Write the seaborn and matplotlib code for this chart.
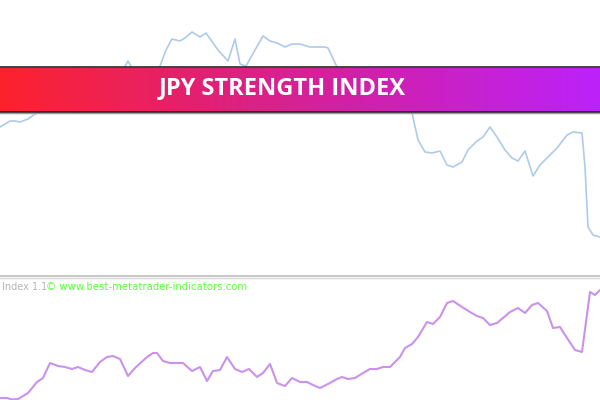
import numpy as np
import pandas as pd
import seaborn as sns
import matplotlib.pyplot as plt

# Strength line (upper panel)
top_x = [0, 10, 15, 20, 28, 35, 40, 47, 55, 62, 72, 78, 84, 92, 100, 108, 116, 122,
         128, 133, 140, 148, 155, 160, 166, 172, 180, 185, 192, 200, 206, 218, 228,
         235, 240, 246, 255, 263, 270, 277, 285, 292, 300, 310, 325, 328, 337, 345,
         355, 365, 375, 385, 395, 403, 412, 418, 425, 432, 440, 447, 453, 462, 468,
         477, 483, 490, 497, 505, 512, 518, 525, 533, 540, 548, 557, 567, 573, 582,
         585, 588, 593, 600]
top_val = [145, 151, 151, 150, 153, 158, 160, 164, 167, 169, 164, 159, 165, 172, 177,
           184, 192, 200, 211, 202, 197, 194, 200, 206, 222, 233, 231, 234, 240, 235,
           239, 222, 211, 233, 208, 206, 222, 236, 231, 229, 225, 228, 228, 225, 225,
           224, 205, 194, 187, 184, 188, 182, 177, 172, 159, 132, 120, 119, 121, 107,
           105, 110, 122, 131, 135, 145, 135, 122, 114, 111, 121, 96, 107, 115, 124,
           137, 140, 139, 105, 45, 37, 35]

# Index line (lower panel)
bot_x = [0, 7, 12, 18, 28, 37, 43, 50, 58, 65, 72, 78, 85, 92, 100, 107, 113, 120,
         128, 135, 147, 153, 157, 163, 170, 183, 192, 200, 207, 213, 220, 227, 235,
         242, 249, 257, 263, 270, 277, 285, 292, 300, 307, 313, 320, 328, 337, 342,
         348, 355, 363, 370, 377, 383, 390, 400, 405, 412, 418, 427, 433, 440, 447,
         453, 462, 470, 477, 483, 490, 497, 503, 510, 518, 525, 532, 538, 547, 553,
         560, 567, 575, 582, 590, 595, 600]
bot_val = [2, 2, 0.5, 1, 7, 18, 22, 37, 34, 33, 31, 33, 30, 28, 38, 43, 44, 41, 24, 32,
           43, 47, 47, 39, 37, 37, 29, 33, 19, 29, 30, 43, 31, 28, 31, 23, 27, 36, 17,
           14, 22, 18, 18, 15, 12, 16, 21, 23, 21, 22, 27, 31, 31, 33, 33, 43, 52, 56,
           63, 78, 76, 83, 97, 99, 93, 88, 84, 82, 75, 77, 82, 88, 92, 87, 95, 97, 89,
           72, 73, 62, 50, 48, 108, 105, 110]

title = "JPY STRENGTH INDEX"

df_top = pd.DataFrame({"x": top_x, "v": top_val})
df_bot = pd.DataFrame({"x": bot_x, "v": bot_val})

sns.set_theme(style="white")

fig = plt.figure(figsize=(6, 4), dpi=100)
fig.patch.set_facecolor("white")

# upper panel
ax1 = fig.add_axes([0, 126 / 400, 1, 274 / 400])
sns.lineplot(ax=ax1, data=df_top, x="x", y="v", sort=False, color="#AECBEB", linewidth=1.2)
ax1.set_xlim(0, 600)
ax1.set_ylim(-2, 272)
ax1.axis("off")

# lower panel
ax2 = fig.add_axes([0, 0, 1, 122 / 400])
sns.lineplot(ax=ax2, data=df_bot, x="x", y="v", sort=False, color="#CB92EC", linewidth=1.5)
ax2.set_xlim(0, 600)
ax2.set_ylim(0, 122)
ax2.axis("off")

# separator between panels
fig.add_artist(plt.Line2D([0, 1], [1 - 275.5 / 400] * 2, color="#BDBDBD", lw=1.2))
fig.add_artist(plt.Line2D([0, 1], [1 - 277.8 / 400] * 2, color="#D5D5D5", lw=1.0))

fig.text(2 / 600, 1 - 287 / 400, "Index 1.1", color="#B4B4B4", fontsize=7.0, va="center")
fig.text(46 / 600, 1 - 287 / 400, "\u00a9 www.best-metatrader-indicators.com",
         color="#5CFF3A", fontsize=7.3, va="center")

# gradient banner
axb = fig.add_axes([0, 1 - 112 / 400, 1, 45 / 400])
grad = np.linspace(0, 1, 256)
c0 = np.array([252, 34, 44]) / 255
c1 = np.array([214, 32, 150]) / 255
c2 = np.array([188, 34, 250]) / 255
rgb = np.where(grad[:, None] < 0.5,
               c0 + (c1 - c0) * (grad[:, None] / 0.5),
               c1 + (c2 - c1) * ((grad[:, None] - 0.5) / 0.5))
axb.imshow(rgb[None, :, :], aspect="auto", extent=[0, 1, 0, 1])
axb.set_xticks([])
axb.set_yticks([])
for side in ["left", "right"]:
    axb.spines[side].set_visible(False)
axb.spines["top"].set_color("#3A3A3A")
axb.spines["top"].set_linewidth(1.3)
axb.spines["bottom"].set_color("#1E1E1E")
axb.spines["bottom"].set_linewidth(1.3)
fig.add_artist(plt.Line2D([0, 1], [1 - 113 / 400] * 2, color="#9A9A9A", lw=1.0))

fig.text(282 / 600, 1 - 88 / 400, title, color="white", fontsize=17, fontweight="bold",
         family=["Open Sans", "DejaVu Sans"], ha="center", va="center")

plt.savefig("out.png", dpi=100)
